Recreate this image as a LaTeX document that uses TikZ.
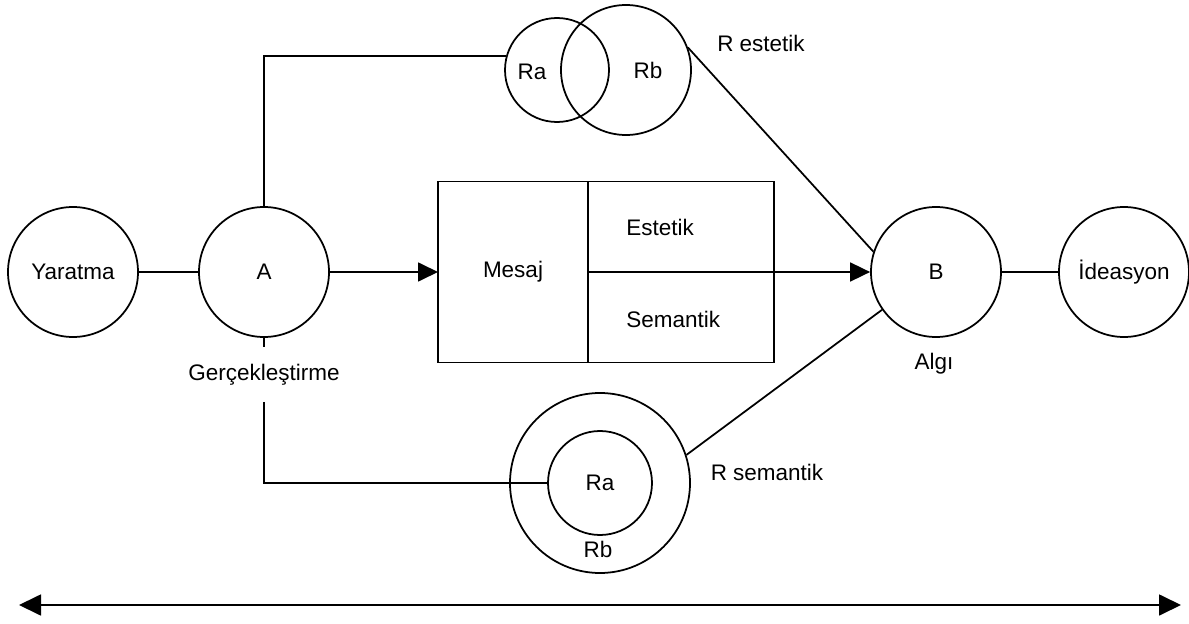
\documentclass[tikz,border=0pt]{standalone}
\usepackage{fontspec}
\setmainfont{Liberation Sans}
\usetikzlibrary{arrows.meta, positioning}

\begin{document}
\begin{tikzpicture}[
    daire/.style={circle, draw, line width=1pt, minimum size=2.6cm, inner sep=0pt},
    halka/.style={circle, draw, line width=1pt, inner sep=0pt},
    kutu/.style={rectangle, draw, line width=1pt, minimum height=3.62cm, inner sep=0pt, outer sep=0pt},
    etiket/.style={inner sep=0pt},
    cizgi/.style={line width=1pt},
    arr/.style={-{Triangle[length=0.4cm, width=0.38cm]}, line width=1pt},
    ikiok/.style={arrows={Triangle[length=0.44cm, width=0.42cm]-Triangle[length=0.44cm, width=0.42cm]}, line width=1pt},
    font=\fontsize{12.8}{15}\selectfont]
    \useasboundingbox (0,0) rectangle (23.78,12.46);
    \node[daire] (yaratma) at (1.46,7.02) {Yaratma};
    \node[daire] (A) at (5.28,7.02) {A};
    \node[kutu, minimum width=3cm] (mesaj) at (10.26,7.02) {Mesaj};
    \node[kutu, minimum width=3.72cm, right=0pt of mesaj] (yapi) {};
    \node[etiket, anchor=west] (estetik) at (12.52,7.92) {Estetik};
    \node[etiket, anchor=west] (semantik) at (12.52,6.08) {Semantik};
    \node[daire] (B) at (18.72,7.02) {B};
    \node[daire] (ideasyon) at (22.48,7.02) {İdeasyon};
    \node[etiket, minimum height=1.08cm] (gercek) at (5.28,4.97) {Gerçekleştirme};
    \node[etiket] (algi) at (18.68,5.18) {Algı};
    \node[halka, minimum size=2.08cm] (raUst) at (11.14,11.06) {};
    \node[halka, minimum size=2.6cm] (rbUst) at (12.52,11.06) {};
    \node[etiket] (raUstYazi) at (10.64,11.02) {Ra};
    \node[etiket] (rbUstYazi) at (12.96,11.06) {Rb};
    \node[etiket] (restetik) at (15.22,11.6) {R estetik};
    \node[halka, minimum size=3.6cm] (rbAlt) at (12.0,2.8) {};
    \node[halka, minimum size=2.08cm] (raAlt) at (12.0,2.8) {Ra};
    \node[etiket] (rbAltYazi) at (11.96,1.48) {Rb};
    \node[etiket] (rsemantik) at (15.34,3.02) {R semantik};
    \coordinate (solUc) at (0.38,0.36);
    \coordinate (sagUc) at (23.62,0.36);
    \draw[cizgi] (yaratma) -- (A); \draw[cizgi] (B) -- (ideasyon);
    \draw[arr] (A.east) -- (mesaj.west); \draw[arr] (mesaj.east) -- (B.west);
    \draw[cizgi] (A.north) |- (raUst.165);
    \draw[cizgi] (A.south) -- (gercek.north); \draw[cizgi] (gercek.south) |- (raAlt.west);
    \draw[cizgi] (rbUst.20) -- (B.162); \draw[cizgi] (rbAlt.18) -- (B.215);
    \draw[ikiok] (solUc) -- (sagUc);
\end{tikzpicture}
\end{document}
